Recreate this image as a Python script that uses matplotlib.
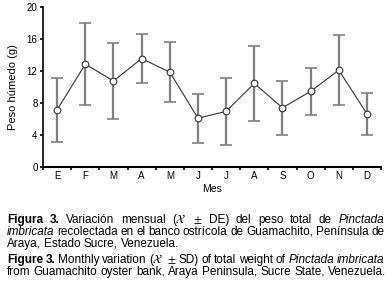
import numpy as np
import matplotlib
matplotlib.use('Agg')
import matplotlib.pyplot as plt
from matplotlib import font_manager

# datos
meses = ['E', 'F', 'M', 'A', 'M', 'J', 'J', 'A', 'S', 'O', 'N', 'D']
peso = [7.1, 12.8, 10.7, 13.5, 11.8, 6.05, 6.9, 10.4, 7.35, 9.4, 12.05, 6.6]
de = [4.0, 5.1, 4.8, 3.1, 3.75, 3.05, 4.2, 4.7, 3.35, 2.9, 4.35, 2.6]

nombres = {f.name for f in font_manager.fontManager.ttflist}
fuente = 'Liberation Sans Narrow' if 'Liberation Sans Narrow' in nombres else 'Liberation Sans'
plt.rcParams['font.family'] = [fuente, 'DejaVu Sans']
plt.rcParams['mathtext.fontset'] = 'stix'

fig = plt.figure(figsize=(3.88, 2.98), dpi=100)
ax = fig.add_axes([0.111, 0.441, 0.871, 0.537])

x = np.arange(len(meses))
ax.errorbar(x, peso, yerr=de, fmt='none', ecolor='#808080', elinewidth=1.6,
            capsize=4.3, capthick=1.2, zorder=1)
ax.plot(x, peso, color='#333333', lw=0.8, marker='o', ms=4.8, mfc='white',
        mec='#333333', mew=0.8, zorder=3)

ax.set_xlim(-0.5, 11.5)
ax.set_ylim(0, 20)
ax.set_yticks(np.arange(0, 21, 4))
ax.set_xticks(np.arange(-0.5, 12, 1))
ax.set_xticklabels([])
ax.set_xticks(x, minor=True)
ax.set_xticklabels(meses, minor=True)
ax.tick_params(axis='x', which='major', direction='out', length=2.5, width=1.2)
ax.tick_params(axis='x', which='minor', length=0, labelsize=7, pad=3)
ax.tick_params(axis='y', direction='out', length=2.5, width=1.2, labelsize=7, pad=1.5)
for s in ['top', 'right']:
    ax.spines[s].set_visible(False)
ax.spines['left'].set_linewidth(1.2)
ax.spines['bottom'].set_linewidth(1.5)
ax.set_ylabel('Peso húmedo (g)', fontsize=8)
ax.yaxis.set_label_coords(-0.075, 0.5)
ax.set_xlabel('Mes', fontsize=7.5, labelpad=2)

# pie de figura (texto justificado)
W, H = 388, 298
renderer = fig.canvas.get_renderer()
fs = 8.5
x0, x1 = 7, 384
B = {'weight': 'bold'}
I = {'style': 'italic'}
N = {}
lineas = [
    ([('Figura 3.', B), ('Variación mensual ($\\mathcal{X}$ $\\pm$ DE) del peso total de', N),
      ('Pinctada', I)], 223, True),
    ([('imbricata', I), ('recolectada en el banco ostrícola de Guamachito, Península de', N)], 235, True),
    ([('Araya, Estado Sucre, Venezuela.', N)], 247, False),
    ([('Figure 3.', B), ('Monthly variation ($\\mathcal{X}$ $\\pm$ SD) of total weight of', N),
      ('Pinctada imbricata', I)], 263, True),
    ([('from Guamachito oyster bank, Araya Peninsula, Sucre State, Venezuela.', N)], 275, False),
]
esp = fig.text(0, 0, 'a b', fontsize=fs)
sin = fig.text(0, 0, 'ab', fontsize=fs)
sp = esp.get_window_extent(renderer).width - sin.get_window_extent(renderer).width
esp.remove()
sin.remove()
for segs, ypix, just in lineas:
    palabras = []
    for txt, st in segs:
        for w in txt.split(' '):
            palabras.append((w, st))
    arts = [fig.text(0, 1 - ypix / H, w, fontsize=fs, va='baseline', ha='left', **st)
            for w, st in palabras]
    anchos = [a.get_window_extent(renderer).width for a in arts]
    if just and len(arts) > 1:
        gap = (x1 - x0 - sum(anchos)) / (len(arts) - 1)
    else:
        gap = sp
    pos = x0
    for a, w in zip(arts, anchos):
        a.set_x(pos / W)
        pos += w + gap

fig.savefig('out.png', dpi=100)
